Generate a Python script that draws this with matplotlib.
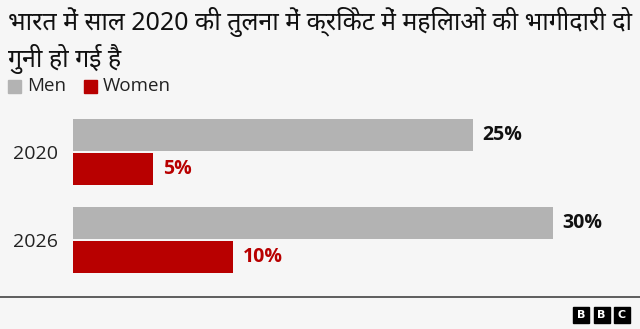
import matplotlib
matplotlib.use("Agg")
from matplotlib import pyplot as plt
from matplotlib import font_manager
from matplotlib.ft2font import FT2Font
from matplotlib.patches import Rectangle

title = "भारत में साल 2020 की तुलना में क्रिकेट में महिलाओं की भागीदारी दो\nगुनी हो गई है"
years = ["2020", "2026"]
men = [25, 30]
women = [5, 10]
series_names = ["Men", "Women"]

MEN_COLOR = "#b3b3b3"
WOMEN_COLOR = "#b80000"
BG = "#f6f6f6"


def find_font(codepoint):
    # look for an installed font that covers the given character
    for f in font_manager.fontManager.ttflist:
        try:
            if codepoint in FT2Font(f.fname).get_charmap():
                return f.name
        except Exception:
            pass
    return None


deva = find_font(0x092D)
title_family = ["Noto Sans"] + ([deva] if deva else []) + ["DejaVu Sans"]
plt.rcParams["font.family"] = ["Open Sans", "DejaVu Sans"]

W, H = 640, 329
fig = plt.figure(figsize=(W / 100, H / 100), dpi=100, facecolor=BG)

# axes placed in pixel terms: x 73..633, y 108..284
ax = fig.add_axes([73 / W, (H - 284) / H, 560 / W, 176 / H])
ax.set_facecolor(BG)
ax.set_xlim(0, 35)
ax.set_ylim(1.5, -0.5)

pos = list(range(len(years)))
h = 32 / 88
off = 17 / 88
ax.barh([p - off for p in pos], men, height=h, color=MEN_COLOR)
ax.barh([p + off for p in pos], women, height=h, color=WOMEN_COLOR)

for p, v in zip(pos, men):
    ax.annotate(f"{v}%", (v, p - off), xytext=(7, 0), textcoords="offset points",
                va="center", ha="left", fontsize=14, fontweight="bold", color="#111111")
for p, v in zip(pos, women):
    ax.annotate(f"{v}%", (v, p + off), xytext=(7, 0), textcoords="offset points",
                va="center", ha="left", fontsize=14, fontweight="bold", color=WOMEN_COLOR)

ax.set_yticks(pos, years)
ax.set_xticks([])
ax.tick_params(axis="y", length=0, pad=11, labelsize=14, labelcolor="#222222")
for s in ax.spines.values():
    s.set_visible(False)

fig.text(8 / W, 1 - 7 / H, title, ha="left", va="top", fontsize=18,
         color="#111111", linespacing=1.3, family=title_family)

# legend
for x0, name, col in [(8, series_names[0], MEN_COLOR), (84, series_names[1], WOMEN_COLOR)]:
    fig.patches.append(Rectangle((x0 / W, 1 - 93 / H), 13 / W, 13 / H,
                                 transform=fig.transFigure, color=col))
    fig.text((x0 + 19) / W, 1 - 86 / H, name, ha="left", va="center",
             fontsize=13.5, color="#222222")

# bottom rule
fig.add_artist(plt.Line2D([0, 1], [1 - 297 / H, 1 - 297 / H], transform=fig.transFigure,
                          color="#444444", linewidth=1.2))

# BBC blocks
for i, letter in enumerate("BBC"):
    x0 = 573 + i * 20.5
    fig.patches.append(Rectangle((x0 / W, 1 - 323 / H), 16 / W, 16 / H,
                                 transform=fig.transFigure, color="black"))
    fig.text((x0 + 8) / W, 1 - 315 / H, letter, ha="center", va="center",
             fontsize=8, fontweight="bold", color="white", family="DejaVu Sans")

fig.savefig("out.png", dpi=100, facecolor=BG)
